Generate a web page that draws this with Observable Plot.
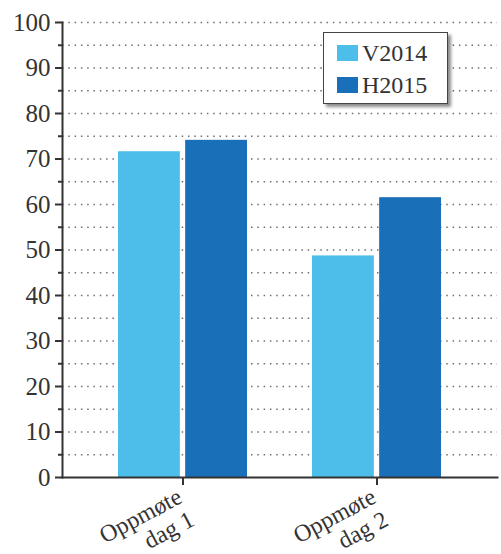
<!DOCTYPE html>
<html>
<head>
<meta charset="utf-8">
<script src="https://cdn.jsdelivr.net/npm/d3@7"></script>
<script src="https://cdn.jsdelivr.net/npm/@observablehq/plot@0.6"></script>
<style>
  body { margin: 0; background: #fff; }
  #chart { position: relative; width: 501px; height: 554px; }
  .legend {
    position: absolute; left: 323px; top: 32px; width: 125px; height: 72px;
    box-sizing: border-box; border: 1.5px solid #444; background: #fff;
    box-shadow: 3px 3px 3px rgba(0, 0, 0, 0.45);
    font-family: "Liberation Serif", serif; font-size: 24px; color: #333;
  }
  .legend .row { position: absolute; left: 13px; height: 24px; line-height: 24px; display: flex; align-items: center; }
  .legend .sw { width: 21px; height: 16px; margin-right: 4px; }
</style>
</head>
<body>
<div id="chart"></div>
<script>
// Attendance (%) per day, spring 2014 vs autumn 2015
const groups = ["Oppmøte\ndag 1", "Oppmøte\ndag 2"];
const series = ["V2014", "H2015"];
const seriesColors = ["#4dbde9", "#1a70b8"];
const v2014 = [71.6, 48.7];
const h2015 = [74.1, 61.5];
const yMajorTicks = [0, 10, 20, 30, 40, 50, 60, 70, 80, 90, 100];
const yMinorTicks = [5, 15, 25, 35, 45, 55, 65, 75, 85, 95];
const gridLevels = [5, 10, 15, 20, 25, 30, 35, 40, 45, 50, 55, 60, 65, 70, 75, 80, 85, 90, 95, 100];

const rowsV = groups.map((g, i) => ({group: g, series: series[0], value: v2014[i]}));
const rowsH = groups.map((g, i) => ({group: g, series: series[1], value: h2015[i]}));

const W = 501, H = 554;
const margin = {left: 62, right: 4, top: 22, bottom: 77};
const xOptions = {type: "band", domain: groups, paddingInner: 0.335, paddingOuter: 0.286};

// each category band is split in two halves, one per series, with a thin gap between
const xScale = Plot.scale({x: {...xOptions, range: [margin.left, W - margin.right]}});
const bw = typeof xScale.bandwidth === "function" ? xScale.bandwidth() : xScale.bandwidth;
const seriesGap = 5;
const halfInset = bw / 2 + seriesGap / 2;

const chart = Plot.plot({
  width: W,
  height: H,
  marginLeft: margin.left,
  marginRight: margin.right,
  marginTop: margin.top,
  marginBottom: margin.bottom,
  style: {fontFamily: '"Liberation Serif", serif', fontSize: "25px", color: "#333", background: "white"},
  x: {...xOptions, label: null},
  y: {domain: [0, 100], label: null},
  color: {domain: series, range: seriesColors},
  marks: [
    // dotted horizontal guides
    Plot.ruleY(gridLevels, {stroke: "#6f6f6f", strokeWidth: 1.5, strokeDasharray: "1.5,4.8"}),
    Plot.barY(rowsV, {x: "group", y: "value", fill: "series", insetRight: halfInset}),
    Plot.barY(rowsH, {x: "group", y: "value", fill: "series", insetLeft: halfInset}),
    // axis lines
    Plot.frame({anchor: "left", stroke: "#333", strokeWidth: 2}),
    Plot.frame({anchor: "bottom", stroke: "#333", strokeWidth: 2}),
    Plot.axisY({ticks: yMajorTicks, tickSize: 7, tickPadding: 5, strokeWidth: 2, stroke: "#333", label: null}),
    Plot.axisY({ticks: yMinorTicks, tickSize: 4, tickFormat: () => "", strokeWidth: 2, stroke: "#333", label: null}),
    Plot.axisX({tickSize: 8, tickFormat: () => "", strokeWidth: 2, stroke: "#333", label: null}),
    // rotated two-line category labels
    Plot.text(groups, {
      x: d => d, text: d => d, frameAnchor: "bottom",
      rotate: -28, textAnchor: "end", lineAnchor: "top", lineHeight: 1.08,
      dx: -8, dy: 8, fontSize: 24, fill: "#333"
    })
  ]
});

const host = document.getElementById("chart");
host.appendChild(chart);

// legend box inside the plot area
const legend = document.createElement("div");
legend.className = "legend";
series.forEach((s, i) => {
  const row = document.createElement("div");
  row.className = "row";
  row.style.top = (8 + i * 32) + "px";
  const sw = document.createElement("span");
  sw.className = "sw";
  sw.style.background = seriesColors[i];
  const label = document.createElement("span");
  label.textContent = s;
  row.appendChild(sw);
  row.appendChild(label);
  legend.appendChild(row);
});
host.appendChild(legend);
</script>
</body>
</html>
